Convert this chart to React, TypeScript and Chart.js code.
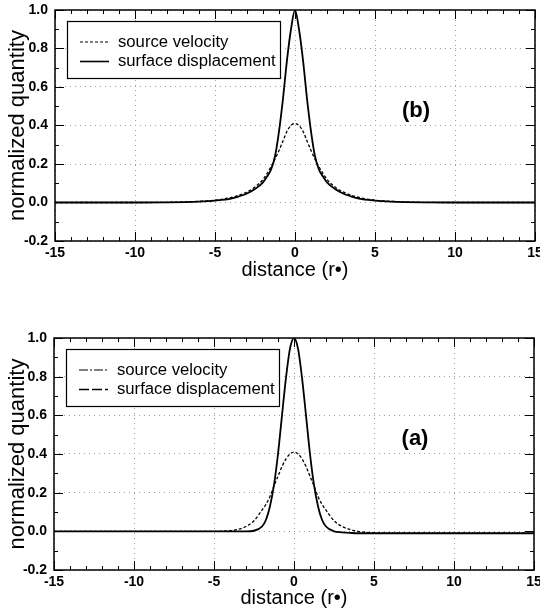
import React, { useEffect, useRef } from "react";
import { Chart, registerables } from "chart.js";
Chart.register(...registerables);

// ---- data ----
const xTickValues = [-15, -10, -5, 0, 5, 10, 15];
const yTickValues = [-0.2, 0.0, 0.2, 0.4, 0.6, 0.8, 1.0];
const legendLabels = ["source velocity", "surface displacement"];

const distance = [-15, -12, -10, -8, -6, -5, -4, -3.5, -3, -2.5, -2, -1.75, -1.5, -1.25, -1, -0.75, -0.5, -0.25, 0,
  0.25, 0.5, 0.75, 1, 1.25, 1.5, 1.75, 2, 2.5, 3, 3.5, 4, 5, 6, 8, 10, 12, 15];

// panel (b)
const velocityB = [0, 0, 0, 0.001, 0.006, 0.012, 0.026, 0.038, 0.055, 0.08, 0.12, 0.15, 0.185, 0.225, 0.27, 0.32, 0.37, 0.4, 0.41,
  0.4, 0.37, 0.32, 0.27, 0.225, 0.185, 0.15, 0.12, 0.08, 0.055, 0.038, 0.026, 0.012, 0.006, 0.001, 0, 0, 0];
const displacementB = [0, 0, 0, 0.001, 0.005, 0.01, 0.02, 0.032, 0.047, 0.07, 0.105, 0.135, 0.17, 0.24, 0.37, 0.54, 0.74, 0.9, 1.0,
  0.9, 0.74, 0.54, 0.37, 0.24, 0.17, 0.135, 0.105, 0.07, 0.047, 0.032, 0.02, 0.01, 0.005, 0.001, 0, 0, 0];

// panel (a)
const velocityA = [0, 0, 0, 0, 0, 0, 0.003, 0.01, 0.025, 0.055, 0.11, 0.14, 0.18, 0.235, 0.285, 0.335, 0.375, 0.4, 0.41,
  0.4, 0.375, 0.335, 0.285, 0.235, 0.18, 0.14, 0.11, 0.055, 0.025, 0.01, 0.0, -0.008, -0.01, -0.01, -0.01, -0.01, -0.01];
const displacementA = [0, 0, 0, 0, 0, 0, 0, 0, 0, 0.003, 0.025, 0.06, 0.13, 0.24, 0.4, 0.6, 0.795, 0.945, 1.0,
  0.945, 0.795, 0.6, 0.4, 0.24, 0.13, 0.06, 0.025, 0.0, -0.005, -0.008, -0.01, -0.01, -0.01, -0.01, -0.01, -0.01, -0.01];

const FONT = "'Liberation Sans', Arial, Helvetica, sans-serif";

type PanelProps = {
  top: number;
  height: number;
  padTop: number;
  left: number;
  right: number;
  xHeight: number;
  xTitlePad: number;
  label: string;
  velocity: number[];
  displacement: number[];
  legendDashes: number[][];
  legendWidths: number[];
};

function Panel(p: PanelProps) {
  const ref = useRef<HTMLCanvasElement | null>(null);
  useEffect(() => {
    const canvas = ref.current!;
    const decor = {
      id: "decor",
      afterDraw(chart: any) {
        const { ctx, chartArea: ca, scales } = chart;
        const xs = scales.x, ys = scales.y;
        ctx.save();
        ctx.strokeStyle = "#000";
        ctx.lineWidth = 1;
        const seg = (a: number, b: number, c: number, d: number) => {
          ctx.beginPath(); ctx.moveTo(a, b); ctx.lineTo(c, d); ctx.stroke();
        };
        for (let v = -15; v <= 15; v++) {
          const px = Math.round(xs.getPixelForValue(v)) + 0.5;
          const len = v % 5 === 0 ? 9 : 4;
          seg(px, ca.bottom, px, ca.bottom - len);
          seg(px, ca.top, px, ca.top + len);
        }
        for (let i = -2; i <= 10; i++) {
          const py = Math.round(ys.getPixelForValue(i / 10)) + 0.5;
          const len = i % 2 === 0 ? 9 : 4;
          seg(ca.left, py, ca.left + len, py);
          seg(ca.right, py, ca.right - len, py);
        }
        ctx.lineWidth = 1.5;
        ctx.strokeRect(ca.left, ca.top, ca.right - ca.left, ca.bottom - ca.top);
        // legend
        const bx = ca.left + 12, by = ca.top + 11, bw = 213, bh = 57;
        ctx.fillStyle = "#fff";
        ctx.fillRect(bx, by, bw, bh);
        ctx.lineWidth = 1.2;
        ctx.strokeRect(bx + 0.5, by + 0.5, bw, bh);
        ctx.font = `16.7px ${FONT}`;
        ctx.fillStyle = "#000";
        ctx.textBaseline = "middle";
        ctx.textAlign = "left";
        const rows = [by + 21, by + 40.5];
        rows.forEach((ry, i) => {
          ctx.save();
          ctx.setLineDash(p.legendDashes[i]);
          ctx.lineWidth = p.legendWidths[i];
          seg(bx + 13, ry, bx + 42, ry);
          ctx.restore();
          ctx.fillText(legendLabels[i], bx + 51, ry);
        });
        // panel label
        ctx.font = `bold 22px ${FONT}`;
        ctx.textAlign = "center";
        ctx.fillText(p.label, ca.left + 361, ca.top + 101);
        ctx.restore();
      },
    };
    const chart = new Chart(canvas, {
      type: "line",
      data: {
        datasets: [
          {
            label: legendLabels[0],
            data: distance.map((x, i) => ({ x, y: p.velocity[i] })),
            borderColor: "#000",
            borderWidth: 1.3,
            borderDash: [3, 2],
            pointRadius: 0,
            cubicInterpolationMode: "monotone",
          },
          {
            label: legendLabels[1],
            data: distance.map((x, i) => ({ x, y: p.displacement[i] })),
            borderColor: "#000",
            borderWidth: 1.8,
            pointRadius: 0,
            cubicInterpolationMode: "monotone",
          },
        ],
      },
      options: {
        animation: false,
        responsive: false,
        devicePixelRatio: 1,
        layout: { padding: { left: 0, right: 540 - p.right, top: p.padTop, bottom: 0 } },
        plugins: { legend: { display: false }, tooltip: { enabled: false } },
        scales: {
          x: {
            type: "linear",
            min: -15,
            max: 15,
            afterBuildTicks: (s: any) => { s.ticks = xTickValues.map((v) => ({ value: v })); },
            afterFit: (s: any) => { s.height = p.xHeight; s.paddingLeft = 0; s.paddingRight = 0; },
            ticks: {
              color: "#000",
              padding: 4,
              maxRotation: 0,
              autoSkip: false,
              font: { family: FONT, size: 14, weight: "bold" },
              callback: (v: any) => String(v),
            },
            grid: { color: "#a0a0a0", lineWidth: 1, drawTicks: false },
            border: { display: false, dash: [1, 4] },
            title: {
              display: true,
              text: "distance (r•)",
              color: "#000",
              font: { family: FONT, size: 20 },
              padding: { top: 0, bottom: p.xTitlePad },
            },
          },
          y: {
            type: "linear",
            min: -0.2,
            max: 1.0,
            afterBuildTicks: (s: any) => { s.ticks = yTickValues.map((v) => ({ value: v })); },
            afterFit: (s: any) => { s.width = p.left; s.paddingTop = 0; s.paddingBottom = 0; },
            ticks: {
              color: "#000",
              padding: 7,
              autoSkip: false,
              font: { family: FONT, size: 14, weight: "bold" },
              callback: (v: any) => Number(v).toFixed(1),
            },
            grid: { color: "#a0a0a0", lineWidth: 1, drawTicks: false },
            border: { display: false, dash: [1, 4] },
            title: {
              display: true,
              text: "normalized quantity",
              color: "#000",
              font: { family: FONT, size: 22 },
              padding: { top: 5, bottom: 0 },
            },
          },
        },
      },
      plugins: [decor],
    } as any);
    return () => chart.destroy();
  }, []);
  return (
    <canvas
      ref={ref}
      width={540}
      height={p.height}
      style={{ position: "absolute", left: 0, top: p.top, width: 540, height: p.height }}
    />
  );
}

export default function App() {
  return (
    <div style={{ position: "absolute", left: 0, top: 0, width: 540, height: 612, background: "#fff", overflow: "hidden" }}>
      <Panel
        top={0}
        height={300}
        padTop={10}
        left={55}
        right={535}
        xHeight={59}
        xTitlePad={18}
        label="(b)"
        velocity={velocityB}
        displacement={displacementB}
        legendDashes={[[3, 2], []]}
        legendWidths={[1, 1.6]}
      />
      <Panel
        top={300}
        height={312}
        padTop={38}
        left={54}
        right={534}
        xHeight={42}
        xTitlePad={2}
        label="(a)"
        velocity={velocityA}
        displacement={displacementA}
        legendDashes={[[9, 2, 2, 2], [10, 3]]}
        legendWidths={[1, 1.6]}
      />
    </div>
  );
}
